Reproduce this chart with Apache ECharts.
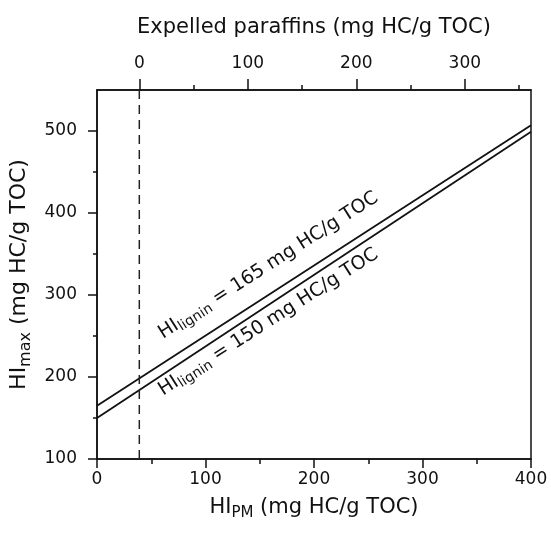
<!DOCTYPE html>
<html><head><meta charset="utf-8">
<script src="https://cdn.jsdelivr.net/npm/echarts@6/dist/echarts.min.js"></script>
<style>html,body{margin:0;padding:0;background:#fff}#c{width:551px;height:534px}</style>
</head><body><div id="c"></div>
<script>
// HI_PM (mg HC/g TOC) end points of the two model lines
const hiPM = [0, 400];
// HI_max (mg HC/g TOC) for the two lignin values
const hiMaxLignin165 = [165, 507];
const hiMaxLignin150 = [150, 499];
// HI_PM at which expelled paraffins = 0 (dashed line, top-axis origin)
const paraffinZeroHIPM = 39;
const dashedRange = [100, 550];
// tick values
const bottomTicks = [0, 100, 200, 300, 400];
const leftTicks = [100, 200, 300, 400, 500];
const leftMinorTicks = [150, 250, 350, 450];
const topTicks = [0, 100, 200, 300];
const topMinorTicks = [50, 150, 250, 350];
// line annotations: lignin value and anchor (HI_PM, HI_max) of label centre
const labelLignin = ['165', '150'];
const labelAnchors = [[158, 336], [158, 267]];

const FONT = 'DejaVu Sans';
const TXT = '#111';
const chart = echarts.init(document.getElementById('c'), null, {renderer: 'canvas'});

const titleRich = {
  m: {fontFamily: FONT, fontSize: 21, color: TXT},
  s: {fontFamily: FONT, fontSize: 15, color: TXT, padding: [11, 0, 0, 0]}
};
const yTitleRich = {
  m: {fontFamily: FONT, fontSize: 22, color: TXT},
  s: {fontFamily: FONT, fontSize: 16, color: TXT, padding: [12, 0, 0, 0]}
};
const labRich = {
  m: {fontFamily: FONT, fontSize: 19, color: TXT, opacity: 1},
  s: {fontFamily: FONT, fontSize: 14, color: TXT, opacity: 1, padding: [9, 0, 0, 0]}
};
const tickLabel = {fontFamily: FONT, fontSize: 17, color: TXT};
const lineSt = {color: '#111', width: 1.5};

chart.setOption({
  animation: false,
  backgroundColor: '#fff',
  grid: {left: 97, right: 20, top: 90, bottom: 75, show: true, borderColor: '#111', borderWidth: 1.5, backgroundColor: 'transparent'},
  xAxis: [
    {
      type: 'value', position: 'bottom', min: bottomTicks[0], max: bottomTicks[bottomTicks.length - 1], interval: 100,
      splitLine: {show: false},
      axisLine: {onZero: false, lineStyle: lineSt},
      axisTick: {length: 9, lineStyle: lineSt},
      minorTick: {show: true, splitNumber: 2, length: 5, lineStyle: lineSt},
      axisLabel: {margin: 12, ...tickLabel},
      name: '{m|HI}{s|PM}{m| (mg HC/g TOC)}', nameLocation: 'middle', nameGap: 36,
      nameTextStyle: {rich: titleRich}
    },
    {
      type: 'value', position: 'top',
      min: -paraffinZeroHIPM, max: bottomTicks[bottomTicks.length - 1] - paraffinZeroHIPM,
      splitLine: {show: false},
      axisLine: {onZero: false, lineStyle: lineSt},
      axisTick: {length: 11, lineStyle: lineSt, customValues: topTicks},
      axisLabel: {margin: 18, ...tickLabel, customValues: topTicks},
      name: 'Expelled paraffins (mg HC/g TOC)', nameLocation: 'middle', nameGap: 52,
      nameTextStyle: {fontFamily: FONT, fontSize: 21, color: TXT}
    },
    {
      type: 'value', position: 'top',
      min: -paraffinZeroHIPM, max: bottomTicks[bottomTicks.length - 1] - paraffinZeroHIPM,
      splitLine: {show: false},
      axisLine: {show: false, onZero: false},
      axisTick: {length: 5, lineStyle: lineSt, customValues: topMinorTicks},
      axisLabel: {show: false}
    }
  ],
  yAxis: [
    {
      type: 'value', position: 'left', min: 100, max: 550,
      splitLine: {show: false},
      axisLine: {onZero: false, lineStyle: lineSt},
      axisTick: {length: 9, lineStyle: lineSt, customValues: leftTicks},
      axisLabel: {margin: 20, ...tickLabel, customValues: leftTicks},
      name: '{m|HI}{s|max}{m| (mg HC/g TOC)}', nameLocation: 'middle', nameGap: 56,
      nameTextStyle: {rich: yTitleRich}
    },
    {
      type: 'value', position: 'left', min: 100, max: 550,
      splitLine: {show: false},
      axisLine: {show: false, onZero: false},
      axisTick: {length: 4, lineStyle: lineSt, customValues: leftMinorTicks},
      axisLabel: {show: false}
    }
  ],
  series: [
    {
      type: 'line', xAxisIndex: 0, yAxisIndex: 0, symbol: 'none', silent: true,
      data: hiPM.map((x, i) => [x, hiMaxLignin165[i]]),
      lineStyle: {color: '#111', width: 1.8}
    },
    {
      type: 'line', xAxisIndex: 0, yAxisIndex: 0, symbol: 'none', silent: true,
      data: hiPM.map((x, i) => [x, hiMaxLignin150[i]]),
      lineStyle: {color: '#111', width: 1.8}
    },
    {
      type: 'line', xAxisIndex: 0, yAxisIndex: 0, symbol: 'none', silent: true,
      data: dashedRange.map(v => [paraffinZeroHIPM, v]),
      lineStyle: {color: '#222', width: 1.5, type: [9, 6]}
    },
    {
      type: 'scatter', xAxisIndex: 0, yAxisIndex: 0, symbolSize: 0, silent: true,
      itemStyle: {opacity: 1},
      data: labelAnchors,
      label: {
        show: true, position: 'inside', rotate: 32.7, opacity: 1, color: TXT,
        formatter: p => '{m|HI}{s|lignin}{m| = ' + labelLignin[p.dataIndex] + ' mg HC/g TOC}',
        rich: labRich
      }
    }
  ]
});
</script>
</body></html>
